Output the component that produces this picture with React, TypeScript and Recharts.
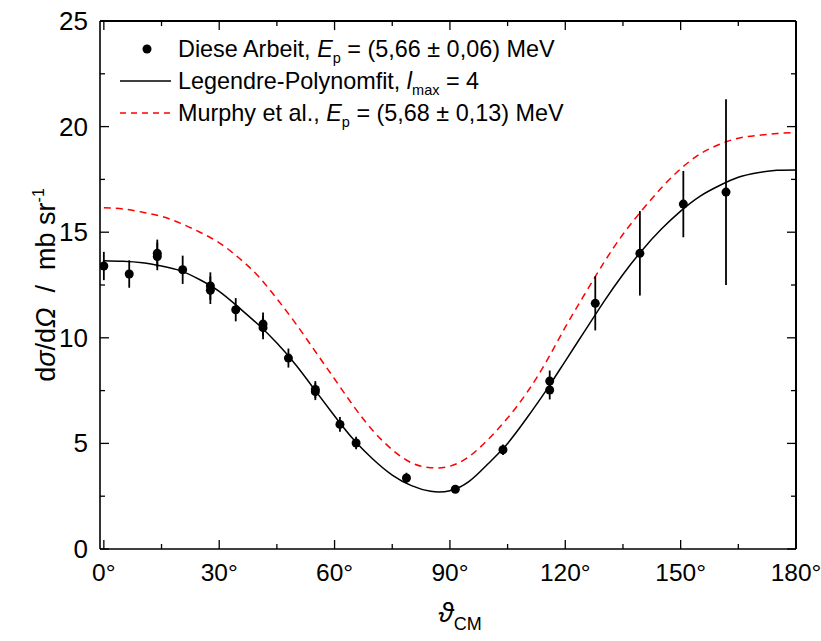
import React from 'react';
import { ComposedChart, Line, Scatter, ErrorBar, XAxis, YAxis, Legend, ReferenceLine } from 'recharts';

// tick positions
const angleTicks = [0, 15, 30, 45, 60, 75, 90, 105, 120, 135, 150, 165, 180];
const valueTicks = [0, 2.5, 5, 7.5, 10, 12.5, 15, 17.5, 20, 22.5, 25];

// curves, every 5 degrees
const curveAngles = [0, 5, 10, 15, 20, 25, 30, 35, 40, 45, 50, 55, 60, 65, 70, 75, 80, 85, 90, 95, 100, 105, 110, 115, 120, 125, 130, 135, 140, 145, 150, 155, 160, 165, 170, 175, 180];
const legendreFit = [13.65, 13.62, 13.55, 13.4, 13.17, 12.75, 12.2, 11.45, 10.65, 9.75, 8.7, 7.5, 6.3, 5.17, 4.25, 3.5, 3.0, 2.73, 2.76, 3.2, 4.05, 5.0, 6.2, 7.5, 8.9, 10.3, 11.7, 13.0, 14.15, 15.15, 16.0, 16.7, 17.2, 17.6, 17.82, 17.93, 17.95];
const murphy = [16.16, 16.1, 15.95, 15.75, 15.42, 15.0, 14.5, 13.8, 12.95, 11.85, 10.65, 9.35, 8.05, 6.75, 5.6, 4.7, 4.08, 3.85, 3.92, 4.38, 5.2, 6.2, 7.4, 8.85, 10.5, 12.05, 13.55, 14.9, 16.05, 17.1, 18.0, 18.7, 19.15, 19.45, 19.58, 19.67, 19.72];

// measured points (Diese Arbeit)
const pointAngles = [0, 6.6, 13.9, 13.9, 20.5, 27.7, 27.7, 34.3, 41.4, 41.4, 48.0, 55.0, 55.0, 61.4, 65.6, 78.7, 91.4, 103.8, 115.95, 115.95, 127.8, 139.4, 150.7, 161.8];
const pointValues = [13.4, 13.02, 14.0, 13.85, 13.22, 12.45, 12.25, 11.33, 10.65, 10.48, 9.04, 7.55, 7.45, 5.9, 5.02, 3.36, 2.83, 4.7, 7.95, 7.53, 11.63, 14.0, 16.33, 16.9];
const pointErrors = [0.67, 0.65, 0.65, 0.65, 0.67, 0.65, 0.65, 0.55, 0.55, 0.55, 0.45, 0.4, 0.4, 0.35, 0.3, 0.25, 0.12, 0.25, 0.5, 0.45, 1.28, 2.0, 1.57, 4.4];

const fitData = curveAngles.map((x, i) => ({ x, y: legendreFit[i] }));
const murphyData = curveAngles.map((x, i) => ({ x, y: murphy[i] }));
const pointData = pointAngles.map((x, i) => ({ x, y: pointValues[i], err: pointErrors[i] }));

const FONT = '"Liberation Sans", Arial, sans-serif';
const AXIS_W = 1.6;
const X_MIN = -1;
const X_MAX = 180;
const Y_MAX = 25;

const BottomTick = (props: any) => {
    const { x, y, payload } = props;
    const major = payload.value % 30 === 0;
    return (
        <g>
            <line x1={x} x2={x} y1={y} y2={y - (major ? 9 : 5)} stroke="#000" strokeWidth={1.3} />
            {major && (
                <text x={x} y={y + 32} textAnchor="middle" fontFamily={FONT} fontSize={24.5} fill="#000">
                    {payload.value}°
                </text>
            )}
        </g>
    );
};

const LeftTick = (props: any) => {
    const { x, y, payload } = props;
    const major = payload.value % 5 === 0;
    return (
        <g>
            <line x1={x} x2={x + (major ? 9 : 5)} y1={y} y2={y} stroke="#000" strokeWidth={1.3} />
            {major && (
                <text x={x - 12} y={y + 9} textAnchor="end" fontFamily={FONT} fontSize={26} fill="#000">
                    {payload.value}
                </text>
            )}
        </g>
    );
};

// legend box sits at top 32, left 110 of the chart
const renderLegend = () => (
    <svg width={470} height={100} style={{ display: 'block', overflow: 'visible' }}>
        <g fontFamily={FONT} fontSize={23.4} fill="#000">
            <circle cx={37} cy={17} r={4.5} fill="#000" />
            <text x={68} y={25}>
                Diese Arbeit, <tspan fontStyle="italic">E</tspan>
                <tspan fontSize={14.5} dy={6}>p</tspan>
                <tspan dy={-6}> = (5,66 ± 0,06) MeV</tspan>
            </text>
            <line x1={10} x2={61} y1={49} y2={49} stroke="#000" strokeWidth={1.5} />
            <text x={68} y={57}>
                Legendre-Polynomfit, <tspan fontStyle="italic">l</tspan>
                <tspan fontSize={14.5} dy={6}>max</tspan>
                <tspan dy={-6}> = 4</tspan>
            </text>
            <line x1={10} x2={61} y1={81} y2={81} stroke="#ff0000" strokeWidth={1.5} strokeDasharray="6 5" />
            <text x={68} y={89}>
                Murphy et al., <tspan fontStyle="italic">E</tspan>
                <tspan fontSize={14.5} dy={6}>p</tspan>
                <tspan dy={-6}> = (5,68 ± 0,13) MeV</tspan>
            </text>
        </g>
    </svg>
);

const YTitle = () => (
    <text
        transform="translate(55, 285) rotate(-90)"
        textAnchor="middle"
        fontFamily={FONT}
        fontSize={27}
        fill="#000"
        style={{ whiteSpace: 'pre' }}
    >
        d<tspan fontStyle="italic">σ</tspan>/d<tspan fontStyle="italic">Ω</tspan>
        <tspan>{'\u00a0\u00a0/\u00a0\u00a0mb sr'}</tspan>
        <tspan fontSize={16} dy={-11}>-1</tspan>
    </text>
);

const XTitle = () => (
    <text x={460} y={622} textAnchor="middle" fontFamily={FONT} fontSize={28} fill="#000">
        <tspan fontStyle="italic">ϑ</tspan>
        <tspan fontSize={18} dy={8}>CM</tspan>
    </text>
);

// inward ticks on the top and right frame, in data units (9 px / 5 px long)
const topTicks = angleTicks.map((a) => ({ a, len: a % 30 === 0 ? 0.43 : 0.24 }));
const rightTicks = valueTicks.map((v) => ({ v, len: v % 5 === 0 ? 2.35 : 1.3 }));

export default function App() {
    return (
        <div style={{ position: 'absolute', left: 0, top: 0, width: 821, height: 641, background: '#fff' }}>
            <ComposedChart width={821} height={641} margin={{ top: 21, right: 25, bottom: 0, left: 0 }}>
                <XAxis
                    dataKey="x"
                    type="number"
                    domain={[X_MIN, X_MAX]}
                    ticks={angleTicks}
                    allowDataOverflow
                    height={92}
                    tickSize={0}
                    tickMargin={0}
                    tickLine={false}
                    tick={<BottomTick />}
                    axisLine={{ stroke: '#000', strokeWidth: AXIS_W }}
                    interval={0}
                    label={<XTitle />}
                />
                <YAxis
                    type="number"
                    domain={[0, Y_MAX]}
                    ticks={valueTicks}
                    allowDataOverflow
                    width={100}
                    tickSize={0}
                    tickMargin={0}
                    tickLine={false}
                    tick={<LeftTick />}
                    axisLine={{ stroke: '#000', strokeWidth: AXIS_W }}
                    interval={0}
                    label={<YTitle />}
                />
                <ReferenceLine y={Y_MAX} stroke="#000" strokeWidth={2} ifOverflow="visible" />
                <ReferenceLine x={X_MAX} stroke="#000" strokeWidth={2} ifOverflow="visible" />
                {topTicks.map((t) => (
                    <ReferenceLine
                        key={`t${t.a}`}
                        segment={[{ x: t.a, y: Y_MAX }, { x: t.a, y: Y_MAX - t.len }]}
                        stroke="#000"
                        strokeWidth={1.3}
                        ifOverflow="visible"
                    />
                ))}
                {rightTicks.map((t) => (
                    <ReferenceLine
                        key={`r${t.v}`}
                        segment={[{ x: X_MAX, y: t.v }, { x: X_MAX - t.len, y: t.v }]}
                        stroke="#000"
                        strokeWidth={1.3}
                        ifOverflow="visible"
                    />
                ))}
                <Legend
                    layout="vertical"
                    align="center"
                    verticalAlign="middle"
                    content={renderLegend}
                    wrapperStyle={{ position: 'absolute', left: 110, top: 32, width: 470, height: 100, pointerEvents: 'none' }}
                />
                <Line
                    data={murphyData}
                    dataKey="y"
                    type="natural"
                    stroke="#ff0000"
                    strokeWidth={1.5}
                    strokeDasharray="7 5"
                    dot={false}
                    activeDot={false}
                    isAnimationActive={false}
                />
                <Line
                    data={fitData}
                    dataKey="y"
                    type="natural"
                    stroke="#000"
                    strokeWidth={1.5}
                    dot={false}
                    activeDot={false}
                    isAnimationActive={false}
                />
                <Scatter
                    data={pointData}
                    dataKey="y"
                    isAnimationActive={false}
                    shape={(p: any) => <circle cx={p.cx} cy={p.cy} r={4.5} fill="#000" />}
                >
                    <ErrorBar dataKey="err" direction="y" width={0} stroke="#000" strokeWidth={1.8} />
                </Scatter>
            </ComposedChart>
        </div>
    );
}
